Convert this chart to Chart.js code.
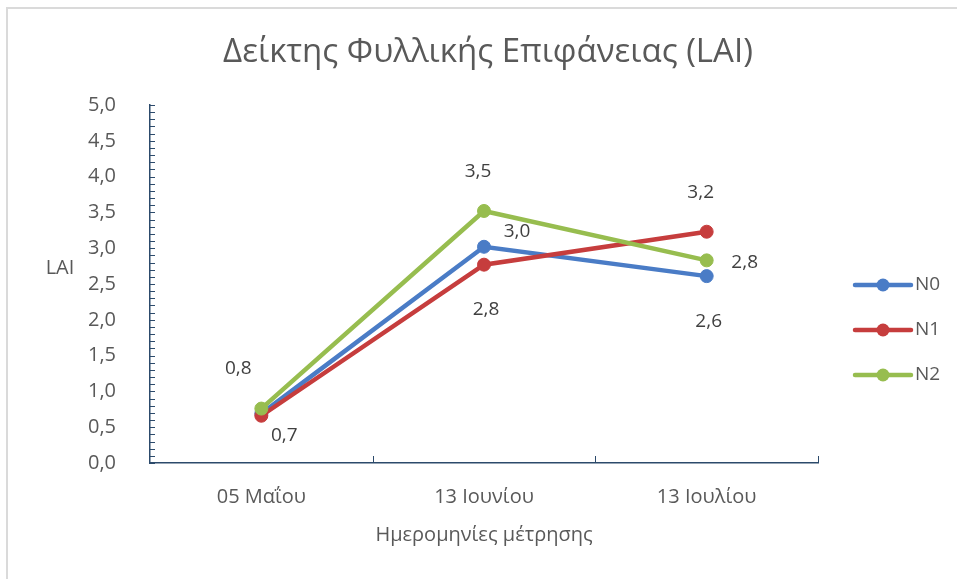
<!DOCTYPE html>
<html><head><meta charset="utf-8">
<script src="https://cdn.jsdelivr.net/npm/chart.js@4"></script>
<style>
html,body{margin:0;padding:0;background:#fff;overflow:hidden;}
#frame{position:absolute;left:6px;top:7px;width:1000px;height:1000px;border-left:2px solid #dadada;border-top:2px solid #dadada;}
#wrap{position:absolute;left:0;top:0;width:957px;height:579px;}
</style></head><body>
<div id="frame"></div>
<div id="wrap"><canvas id="c" width="957" height="579"></canvas></div>
<script>
// ---- data ----
const categories = ['05 Μαΐου', '13 Ιουνίου', '13 Ιουλίου'];
const seriesNames = ['N0', 'N1', 'N2'];
const n0Values = [0.69, 3.02, 2.61];
const n1Values = [0.66, 2.77, 3.23];
const n2Values = [0.76, 3.52, 2.83];
const yMin = 0, yMax = 5, yMajorStep = 0.5, yMinorStep = 0.1;
// which point labels are shown and where (relative to the point)
const n0LabelSide = [null, 'upright', 'below'];
const n1LabelSide = ['downright', 'below', 'above'];
const n2LabelSide = ['upleft', 'above', 'right'];

const titleText = 'Δείκτης Φυλλικής Επιφάνειας (LAI)';
const xTitleText = 'Ημερομηνίες μέτρησης';
const yTitleText = 'LAI';

// ---- styles ----
const FONT = "'Open Sans', 'DejaVu Sans', sans-serif";
const TXT = '#595959';
const AXIS = '#2c4a6b';
const colors = ['#4a7cc6', '#c63d3d', '#97bd4f'];

const fmt = v => (Math.round(v * 10) / 10).toFixed(1).replace('.', ',');

const sideOffsets = {
  upright: [33, -15], below: [2, 45], above: [-6, -39], downright: [23, 20],
  upleft: [-23, -40], right: [38, 2]
};

const extras = {
  id: 'extras',
  afterDatasetsDraw(chart) {
    const ctx = chart.ctx;
    ctx.save();
    ctx.font = `19px ${FONT}`;
    ctx.fillStyle = '#404040';
    ctx.textAlign = 'center';
    ctx.textBaseline = 'middle';
    const sides = [n0LabelSide, n1LabelSide, n2LabelSide];
    chart.data.datasets.forEach((ds, di) => {
      const meta = chart.getDatasetMeta(di);
      meta.data.forEach((pt, i) => {
        const s = sides[di][i];
        if (!s) return;
        const o = sideOffsets[s];
        ctx.fillText(fmt(ds.data[i]), pt.x + o[0], pt.y + o[1]);
      });
    });
    ctx.restore();
  },
  afterDraw(chart) {
    const ctx = chart.ctx;
    const ys = chart.scales.y, xs = chart.scales.x;
    const area = chart.chartArea;
    ctx.save();
    // title
    ctx.fillStyle = TXT;
    ctx.font = `33px ${FONT}`;
    ctx.textAlign = 'center';
    ctx.textBaseline = 'middle';
    ctx.fillText(titleText, 488, 53);
    // minor ticks on y axis (pointing inward)
    ctx.strokeStyle = AXIS;
    ctx.lineWidth = 1;
    const n = Math.round((yMax - yMin) / yMinorStep);
    for (let k = 0; k <= n; k++) {
      const y = Math.round(ys.getPixelForValue(yMin + k * yMinorStep)) + 0.5;
      ctx.beginPath();
      ctx.moveTo(area.left, y);
      ctx.lineTo(area.left + 5, y);
      ctx.stroke();
    }
    // category boundary ticks on x axis (pointing up)
    const nCat = categories.length;
    const half = (xs.getPixelForTick(1) - xs.getPixelForTick(0)) / 2;
    for (let k = 1; k <= nCat; k++) {
      const x = Math.round(xs.getPixelForTick(k - 1) + half) + 0.5;
      ctx.beginPath();
      ctx.moveTo(x, area.bottom);
      ctx.lineTo(x, area.bottom - 7);
      ctx.stroke();
    }
    // y axis title (horizontal)
    ctx.fillStyle = TXT;
    ctx.font = `20px ${FONT}`;
    ctx.textAlign = 'center';
    ctx.textBaseline = 'middle';
    ctx.fillText(yTitleText, 60, (area.top + area.bottom) / 2 - 16);
    // legend
    const lx = area.right + 37, ly0 = area.top + 180, gap = 45;
    chart.data.datasets.forEach((ds, i) => {
      const y = ly0 + i * gap;
      ctx.strokeStyle = ds.borderColor;
      ctx.lineWidth = 4.5;
      ctx.lineCap = 'round';
      ctx.beginPath();
      ctx.moveTo(lx, y);
      ctx.lineTo(lx + 56, y);
      ctx.stroke();
      ctx.fillStyle = ds.borderColor;
      ctx.beginPath();
      ctx.arc(lx + 28, y, 6.5, 0, Math.PI * 2);
      ctx.fill();
      ctx.fillStyle = TXT;
      ctx.font = `19px ${FONT}`;
      ctx.textAlign = 'left';
      ctx.fillText(ds.label, lx + 60, y);
    });
    ctx.restore();
  }
};

const valueSets = [n0Values, n1Values, n2Values];
const datasets = seriesNames.map((name, i) => ({
  label: name,
  data: valueSets[i],
  borderColor: colors[i],
  backgroundColor: colors[i],
  pointBackgroundColor: colors[i],
  pointBorderColor: colors[i],
  borderWidth: 4.5,
  pointRadius: 6.5,
  pointBorderWidth: 1,
  tension: 0,
  order: seriesNames.length - 1 - i
}));

new Chart(document.getElementById('c'), {
  type: 'line',
  data: { labels: categories, datasets },
  options: {
    responsive: false,
    devicePixelRatio: 1,
    animation: false,
    layout: { padding: { left: 0, right: 139, top: 105, bottom: 0 } },
    plugins: {
      legend: { display: false },
      tooltip: { enabled: false },
      title: { display: false }
    },
    scales: {
      x: {
        offset: true,
        grid: { display: false },
        border: { display: true, color: AXIS, width: 1.5 },
        ticks: { color: TXT, font: { family: FONT, size: 20 }, padding: 14 },
        title: { display: true, text: xTitleText, color: TXT,
          font: { family: FONT, size: 20 }, padding: { top: 0, bottom: 32 } },
        afterFit(s) { s.height = 116; }
      },
      y: {
        min: yMin, max: yMax,
        grid: { display: false },
        border: { display: true, color: AXIS, width: 1.5 },
        ticks: { stepSize: yMajorStep, color: TXT, font: { family: FONT, size: 20 },
          padding: 26, callback: v => fmt(v) },
        afterFit(s) { s.width = 150; }
      }
    }
  },
  plugins: [extras]
});
</script>
</body></html>
